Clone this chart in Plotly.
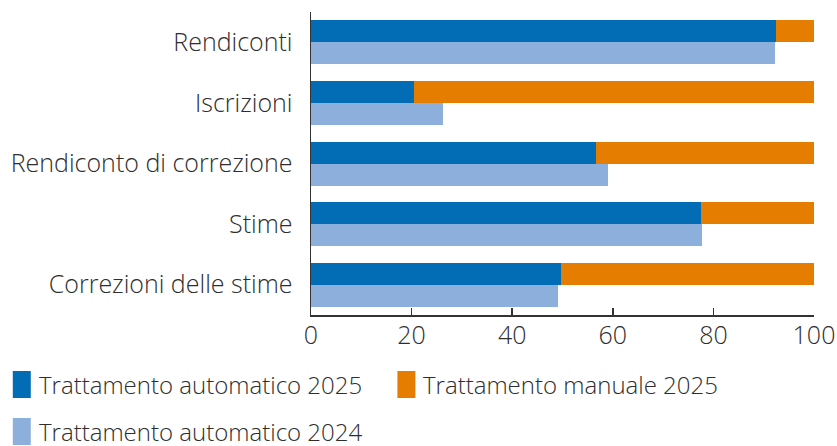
import plotly.graph_objects as go

categories = ["Rendiconti", "Iscrizioni", "Rendiconto di correzione", "Stime", "Correzioni delle stime"]
auto_2025 = [92.5, 20.5, 56.7, 77.6, 49.8]
manual_2025 = [7.5, 79.5, 43.3, 22.4, 50.2]
auto_2024 = [92.3, 26.3, 59.1, 77.8, 49.2]
series_names = ["Trattamento automatico 2025", "Trattamento manuale 2025", "Trattamento automatico 2024"]
x_ticks = [0, 20, 40, 60, 80, 100]

C_AUTO25 = "#026CB5"
C_MAN25 = "#E57E00"
C_AUTO24 = "#8DAFDC"
TXT = "#2E2E2E"
FONT = "Open Sans"
FW = 300

W, H = 837, 446
L, R, T, B = 310.5, 23, 12, 131
PW = W - L - R
PH = H - T - B

BW = 0.363

fig = go.Figure()
fig.add_trace(go.Bar(y=categories, x=auto_2025, orientation="h", name=series_names[0],
                     marker=dict(color=C_AUTO25, line=dict(width=0)), width=BW, offset=-BW,
                     showlegend=False, hoverinfo="skip"))
fig.add_trace(go.Bar(y=categories, x=manual_2025, base=auto_2025, orientation="h", name=series_names[1],
                     marker=dict(color=C_MAN25, line=dict(width=0)), width=BW, offset=-BW,
                     showlegend=False, hoverinfo="skip"))
fig.add_trace(go.Bar(y=categories, x=auto_2024, orientation="h", name=series_names[2],
                     marker=dict(color=C_AUTO24, line=dict(width=0)), width=BW, offset=0,
                     showlegend=False, hoverinfo="skip"))

def px_x(px):
    return (px - L) / PW

def px_y(py):
    return (H - B - py) / PH

legend_items = [
    (series_names[0], C_AUTO25, 12, 371, 398),
    (series_names[1], C_MAN25, 397, 371, 398),
    (series_names[2], C_AUTO24, 12, 418, 445),
]
shapes = []
annotations = []
for name, col, x0, y0, y1 in legend_items:
    shapes.append(dict(type="rect", xref="paper", yref="paper",
                       x0=px_x(x0), x1=px_x(x0 + 18), y0=px_y(y1), y1=px_y(y0),
                       fillcolor=col, line=dict(width=0)))
    annotations.append(dict(xref="paper", yref="paper", x=px_x(x0 + 24), y=px_y((y0 + y1) / 2 - 0.5),
                            text=name, showarrow=False, xanchor="left", yanchor="middle",
                            font=dict(family=FONT, size=24, color=TXT, weight=FW)))

fig.update_layout(
    width=W, height=H,
    margin=dict(l=L, r=R, t=T, b=B, pad=0, autoexpand=False),
    paper_bgcolor="white", plot_bgcolor="white",
    barmode="overlay",
    bargap=0,
    shapes=shapes,
    annotations=annotations,
    font=dict(family=FONT, size=25, color=TXT, weight=FW),
    xaxis=dict(range=[0, 100], tickvals=x_ticks, showgrid=False, zeroline=False, automargin=False,
               showline=True, linecolor="#333333", linewidth=1.5,
               ticks="inside", ticklen=7, tickwidth=1.5, tickcolor="#333333",
               tickfont=dict(family=FONT, size=25, color=TXT, weight=FW), ticklabelstandoff=-3),
    yaxis=dict(categoryorder="array", categoryarray=categories, range=[4.5, -0.5], automargin=False,
               showgrid=False, zeroline=False, showline=True, linecolor="#333333", linewidth=1.5,
               ticks="", tickfont=dict(family=FONT, size=25, color=TXT, weight=FW), ticklabelstandoff=12),
)

fig.write_html("out.html", config={"displayModeBar": False, "staticPlot": True},
               post_script="document.body.style.margin='0';document.body.style.overflow='hidden';")
